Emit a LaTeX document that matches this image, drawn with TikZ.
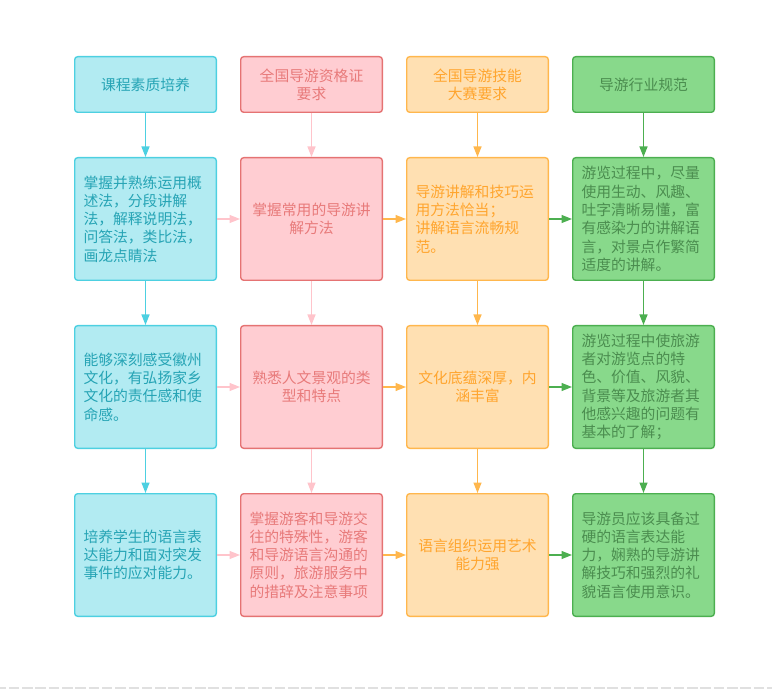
\documentclass[tikz,border=0pt]{standalone}
\usepackage{fontspec}
\newfontfamily\cjk{Noto Sans CJK SC}
\usetikzlibrary{positioning,arrows.meta}

% 四列的颜色
\definecolor{kcfill}{HTML}{B2EBF2}
\definecolor{kcline}{HTML}{4DD0E1}
\definecolor{kctext}{HTML}{26A4B5}
\definecolor{zgfill}{HTML}{FFCDD2}
\definecolor{zgline}{HTML}{E57373}
\definecolor{zgtext}{HTML}{E87A7A}
\definecolor{zgarrow}{HTML}{FFC4CB}
\definecolor{jnfill}{HTML}{FFE0B2}
\definecolor{jnline}{HTML}{FFB74D}
\definecolor{jntext}{HTML}{FFA52E}
\definecolor{hyfill}{HTML}{88D98B}
\definecolor{hyline}{HTML}{4CAF50}
\definecolor{hytext}{HTML}{4B8D4F}
\definecolor{dashgray}{HTML}{E0E0E0}

\begin{document}
\begin{tikzpicture}[x=1pt, y=1pt, >={Triangle[length=10.5pt,width=8pt]},
    box/.style={draw, rounded corners=3pt, line width=1.4pt, minimum width=141.6pt,
      inner sep=0pt, font=\cjk\fontsize{14.8}{18.3}\selectfont},
    head/.style={box, minimum height=55.6pt, align=center},
    body/.style={box, minimum height=122.6pt, text width=124pt, align=left},
    mid/.style={align=center},
    kc/.style={draw=kcline, fill=kcfill, text=kctext},
    zg/.style={draw=zgline, fill=zgfill, text=zgtext},
    jn/.style={draw=jnline, fill=jnfill, text=jntext},
    hy/.style={draw=hyline, fill=hyfill, text=hytext},
    link/.style={->, line width=1.4pt},
    node distance=44pt and 23pt]
    \useasboundingbox (0,0) rectangle (772,-695);

    % 标题行
    \node[head, kc] (kc0) at (145.5,-84.5) {课程素质培养};
    \node[head, zg, right=of kc0] (zg0) {全国导游资格证\\要求};
    \node[head, jn, right=of zg0] (jn0) {全国导游技能\\大赛要求};
    \node[head, hy, right=of jn0] (hy0) {导游行业规范};

    % 课程素质培养
    \node[body, kc, below=of kc0] (kc1) {掌握并熟练运用概\\述法，分段讲解\\法，解释说明法，\\问答法，类比法，\\画龙点睛法};
    \node[body, kc, below=of kc1] (kc2) {能够深刻感受徽州\\文化，有弘扬家乡\\文化的责任感和使\\命感。};
    \node[body, kc, below=of kc2] (kc3) {培养学生的语言表\\达能力和面对突发\\事件的应对能力。};

    % 全国导游资格证要求
    \node[body, zg, mid, below=of zg0] (zg1) {掌握常用的导游讲\\解方法};
    \node[body, zg, mid, below=of zg1] (zg2) {熟悉人文景观的类\\型和特点};
    \node[body, zg, below=of zg2] (zg3) {掌握游客和导游交\\往的特殊性，游客\\和导游语言沟通的\\原则，旅游服务中\\的措辞及注意事项};

    % 全国导游技能大赛要求
    \node[body, jn, below=of jn0] (jn1) {导游讲解和技巧运\\用方法恰当；\\讲解语言流畅规\\范。};
    \node[body, jn, mid, below=of jn1] (jn2) {文化底蕴深厚，内\\涵丰富};
    \node[body, jn, mid, below=of jn2] (jn3) {语言组织运用艺术\\能力强};

    % 导游行业规范
    \node[body, hy, below=of hy0] (hy1) {游览过程中，尽量\\使用生动、风趣、\\吐字清晰易懂，富\\有感染力的讲解语\\言，对景点作繁简\\适度的讲解。};
    \node[body, hy, below=of hy1] (hy2) {游览过程中使旅游\\者对游览点的特\\色、价值、风貌、\\背景等及旅游者其\\他感兴趣的问题有\\基本的了解；};
    \node[body, hy, below=of hy2] (hy3) {导游员应该具备过\\硬的语言表达能\\力，娴熟的导游讲\\解技巧和强烈的礼\\貌语言使用意识。};

    % 竖向箭头
    \foreach \c/\col in {kc/kcline, zg/zgarrow, jn/jnline, hy/hyline} {
      \draw[link, \col] (\c0) -- (\c1);
      \draw[link, \col] (\c1) -- (\c2);
      \draw[link, \col] (\c2) -- (\c3);
    }

    % 横向箭头
    \foreach \r in {1,2,3} {
      \draw[link, zgarrow] (kc\r) -- (zg\r);
      \draw[link, jnline] (zg\r) -- (jn\r);
      \draw[link, hyline] (jn\r) -- (hy\r);
    }

    % 底部虚线
    \coordinate (dl) at (0,-688);
    \coordinate (dr) at (772,-688);
    \draw[dashgray, line width=1.6pt, dash pattern=on 10.5pt off 2.8pt, dash phase=4.5pt] (dl) -- (dr);
\end{tikzpicture}
\end{document}
